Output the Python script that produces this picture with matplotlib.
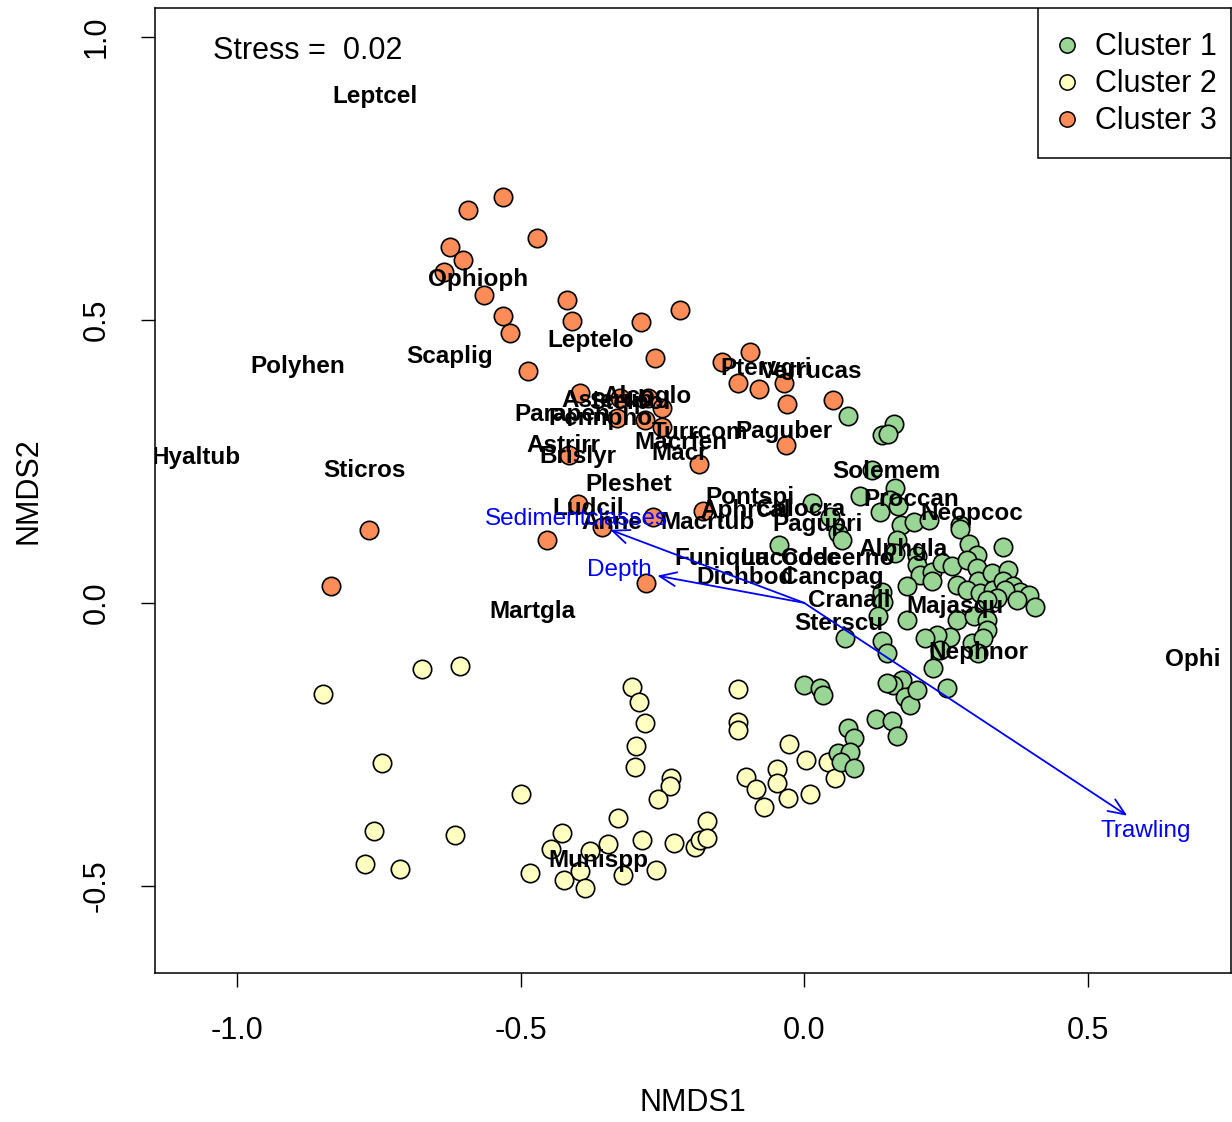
import matplotlib
matplotlib.use('Agg')
from matplotlib import pyplot as plt
from matplotlib.lines import Line2D
from matplotlib.patches import Rectangle

plt.rcParams['font.family'] = ['Liberation Sans', 'DejaVu Sans']

# site scores per cluster (NMDS1, NMDS2)
c1_x = [0.078, 0.159, 0.137, 0.148, 0.119, 0.099, 0.160, 0.152, 0.166, 0.134,
        0.014, 0.046, 0.060, 0.066, 0.171, 0.193, 0.221, 0.275, 0.275, 0.163,
        0.160, 0.199, 0.199, 0.205, 0.225, 0.225, 0.243, 0.260, 0.290, 0.305,
        0.351, 0.287, 0.305, 0.307, 0.331, 0.360, 0.269, 0.287, 0.310, 0.334,
        0.351, 0.369, 0.381, 0.396, 0.407, 0.354, 0.375, 0.340, 0.322, 0.181,
        0.137, 0.140, 0.131, 0.181, 0.269, 0.299, 0.322, 0.322, 0.257, 0.234,
        0.213, 0.240, 0.296, 0.316, 0.307, 0.228, 0.072, 0.137, 0.146, 0.172,
        0.157, 0.146, -0.001, 0.028, 0.252, 0.033, 0.178, 0.187, 0.199, 0.127,
        0.155, 0.164, 0.078, 0.088, 0.060, 0.081, 0.065, 0.088, -0.045]
c1_y = [0.330, 0.316, 0.297, 0.299, 0.235, 0.189, 0.203, 0.182, 0.171, 0.160,
        0.177, 0.152, 0.123, 0.111, 0.138, 0.142, 0.147, 0.138, 0.130, 0.111,
        0.088, 0.082, 0.067, 0.049, 0.054, 0.038, 0.070, 0.065, 0.104, 0.085,
        0.099, 0.076, 0.061, 0.038, 0.052, 0.058, 0.032, 0.023, 0.017, 0.023,
        0.038, 0.029, 0.020, 0.014, -0.007, 0.023, 0.005, 0.008, 0.005, 0.029,
        0.020, 0.002, -0.024, -0.030, -0.030, -0.024, -0.030, -0.048, -0.060, -0.057,
        -0.062, -0.083, -0.071, -0.062, -0.089, -0.115, -0.062, -0.068, -0.089, -0.136,
        -0.145, -0.142, -0.145, -0.150, -0.150, -0.163, -0.166, -0.180, -0.154, -0.205,
        -0.208, -0.235, -0.221, -0.239, -0.265, -0.263, -0.281, -0.292, 0.102]

c2_x = [-0.849, -0.674, -0.607, -0.745, -0.759, -0.775, -0.713, -0.615, -0.500, -0.427,
        -0.446, -0.483, -0.423, -0.396, -0.387, -0.377, -0.346, -0.329, -0.320, -0.303,
        -0.292, -0.280, -0.297, -0.298, -0.234, -0.236, -0.257, -0.286, -0.261, -0.230,
        -0.192, -0.184, -0.172, -0.172, -0.116, -0.117, -0.117, -0.102, -0.084, -0.070,
        -0.047, -0.048, -0.026, -0.029, 0.004, 0.011, 0.042, 0.055]
c2_y = [-0.161, -0.116, -0.111, -0.283, -0.403, -0.461, -0.470, -0.410, -0.338, -0.406,
        -0.435, -0.477, -0.489, -0.473, -0.503, -0.438, -0.426, -0.381, -0.481, -0.148,
        -0.176, -0.213, -0.253, -0.290, -0.310, -0.323, -0.347, -0.419, -0.472, -0.424,
        -0.431, -0.419, -0.386, -0.415, -0.153, -0.210, -0.224, -0.307, -0.329, -0.361,
        -0.294, -0.319, -0.249, -0.345, -0.277, -0.337, -0.281, -0.309]

c3_x = [-0.531, -0.593, -0.471, -0.624, -0.601, -0.635, -0.564, -0.418, -0.531, -0.519,
        -0.409, -0.287, -0.219, -0.263, -0.487, -0.145, -0.095, -0.116, -0.079, -0.035,
        -0.030, 0.051, -0.032, -0.185, -0.395, -0.325, -0.275, -0.330, -0.280, -0.250,
        -0.250, -0.414, -0.399, -0.356, -0.453, -0.266, -0.178, -0.279, -0.767, -0.834]
c3_y = [0.717, 0.694, 0.645, 0.629, 0.606, 0.585, 0.544, 0.535, 0.507, 0.477,
        0.498, 0.496, 0.518, 0.433, 0.410, 0.426, 0.443, 0.389, 0.378, 0.389,
        0.352, 0.359, 0.279, 0.246, 0.371, 0.362, 0.362, 0.327, 0.323, 0.345,
        0.311, 0.261, 0.175, 0.134, 0.111, 0.152, 0.163, 0.035, 0.129, 0.030]

# species scores
sp_names = ['Leptcel', 'Ophioph', 'Polyhen', 'Scaplig', 'Leptelo', 'Hyaltub', 'Sticros',
            'Ptervgri', 'Verrucas', 'Asterub', 'Stelpol', 'Alcoglo', 'Parapen', 'Pennpho',
            'Astrirr', 'Brislyr', 'Turrcom', 'Macrfen', 'Macr', 'Paguber', 'Pleshet',
            'Ludcil', 'Anne', 'Macrtub', 'Pontspi', 'Aphrcal', 'Calocra', 'Pagupri',
            'Solemem', 'Proccan', 'Neopcoc', 'Alphgla', 'Funiqua', 'Lucodec', 'Codeerno',
            'Dichbod', 'Cancpag', 'Cranall', 'Sterscu', 'Majasqu', 'Nephnor', 'Ophi',
            'Martgla', 'Munispp']
sp_x = [-0.757, -0.575, -0.894, -0.626, -0.376, -1.073, -0.776,
        -0.067, 0.012, -0.347, -0.307, -0.277, -0.427, -0.360,
        -0.425, -0.399, -0.183, -0.217, -0.219, -0.035, -0.309,
        -0.381, -0.339, -0.171, -0.095, -0.104, -0.007, 0.023,
        0.146, 0.189, 0.295, 0.175, -0.145, -0.025, 0.060,
        -0.104, 0.049, 0.079, 0.062, 0.266, 0.307, 0.686,
        -0.480, -0.363]
sp_y = [0.899, 0.576, 0.422, 0.440, 0.468, 0.261, 0.239,
        0.419, 0.413, 0.362, 0.359, 0.369, 0.337, 0.330,
        0.283, 0.263, 0.306, 0.288, 0.269, 0.307, 0.214,
        0.171, 0.147, 0.147, 0.191, 0.168, 0.170, 0.143,
        0.237, 0.187, 0.163, 0.099, 0.083, 0.083, 0.083,
        0.049, 0.049, 0.009, -0.032, -0.002, -0.083, -0.095,
        -0.011, -0.451]

# environmental vectors
env_names = ['Sedimentclasses', 'Depth', 'Trawling']
env_x = [-0.342, -0.259, 0.570]
env_y = [0.129, 0.048, -0.376]
env_lab_x = [-0.402, -0.325, 0.603]
env_lab_y = [0.152, 0.062, -0.398]

cols = ['#99D594', '#FFFFBF', '#FC8D59']

fig = plt.figure(figsize=(12.32, 11.22), dpi=100)
ax = fig.add_axes([155/1232, 1-973/1122, 1076/1232, 965/1122])

ax.scatter(c3_x, c3_y, s=175, c=cols[2], edgecolors='black', linewidths=1.2, zorder=2)
ax.scatter(c2_x, c2_y, s=175, c=cols[1], edgecolors='black', linewidths=1.2, zorder=2)
ax.scatter(c1_x, c1_y, s=175, c=cols[0], edgecolors='black', linewidths=1.2, zorder=2)

for n, x, y in zip(sp_names, sp_x, sp_y):
    ax.text(x, y, n, ha='center', va='center_baseline', fontsize=17.5, fontweight='bold',
            color='black', zorder=3, clip_on=True)

for n, x, y, lx, ly in zip(env_names, env_x, env_y, env_lab_x, env_lab_y):
    ax.annotate('', xy=(x, y), xytext=(0, 0),
                arrowprops=dict(arrowstyle='->,head_length=0.6,head_width=0.25',
                                color='blue', lw=1.3, shrinkA=0, shrinkB=0,
                                mutation_scale=20), zorder=4)
    ax.text(lx, ly, n, ha='center', va='center_baseline', fontsize=17.5, color='blue', zorder=4)

ax.text(-0.875, 0.982, 'Stress =  0.02', ha='center', va='center_baseline', fontsize=22)

ax.set_xlim(-1.145, 0.753)
ax.set_ylim(-0.654, 1.051)
ax.set_xticks([-1.0, -0.5, 0.0, 0.5])
ax.set_xticklabels(['-1.0', '-0.5', '0.0', '0.5'])
ax.set_yticks([-0.5, 0.0, 0.5, 1.0])
ax.set_yticklabels(['-0.5', '0.0', '0.5', '1.0'], rotation=90, va='center')
ax.tick_params(direction='out', length=10, width=1, labelsize=22, pad=21)
for s in ax.spines.values():
    s.set_linewidth(1.1)
ax.set_xlabel('NMDS1', fontsize=22, labelpad=30)
ax.set_ylabel('NMDS2', fontsize=22, labelpad=28)

# legend box drawn separately so it matches R's tighter box
ax.add_patch(Rectangle((0.8206, 0.8446), 0.1794, 0.1554, transform=ax.transAxes,
                       facecolor='white', edgecolor='black', linewidth=1.1, zorder=5))
handles = [Line2D([], [], marker='o', linestyle='none', markersize=11,
                  markerfacecolor=c, markeredgecolor='black', markeredgewidth=1.1)
           for c in cols]
leg = ax.legend(handles, ['Cluster 1', 'Cluster 2', 'Cluster 3'], loc='upper right',
                bbox_to_anchor=(1.0093, 1), borderaxespad=0, fontsize=22, frameon=False,
                handletextpad=0.3, labelspacing=0.23, borderpad=0.8, handlelength=1.2)
leg.set_zorder(6)

plt.savefig('out.png', dpi=100)
